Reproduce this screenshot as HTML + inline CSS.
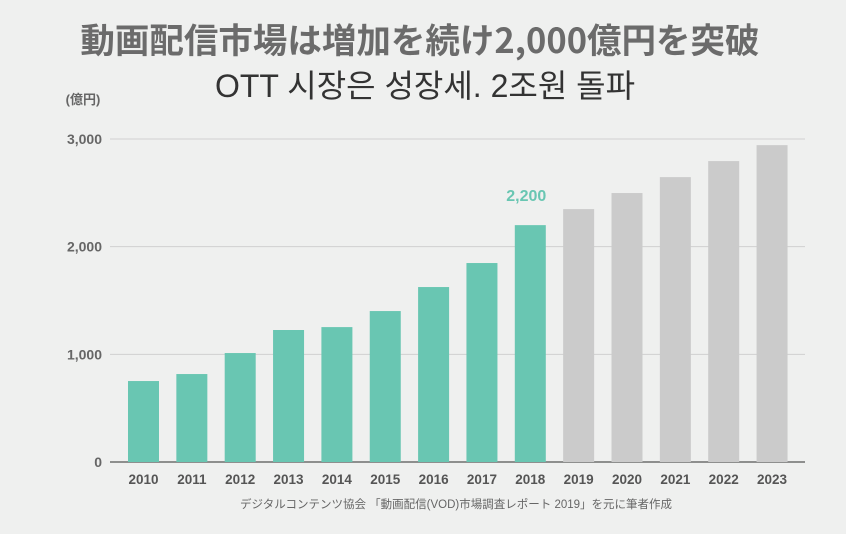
<!DOCTYPE html>
<html><head><meta charset="utf-8"><style>
body{margin:0;background:#eff0ef;}
svg{display:block;font-family:"Liberation Sans","Noto Sans CJK JP",sans-serif;}
</style></head><body>
<svg width="846" height="534">
<rect width="846" height="534" fill="#eff0ef"/>
<text x="420" y="53" text-anchor="middle" font-size="34.5" font-weight="bold" fill="#6b6b6b" font-family="'Noto Sans CJK JP',sans-serif">動画配信市場は増加を続け2,000億円を突破</text>
<text x="425" y="97" text-anchor="middle" font-size="32" fill="#333" font-family="'Liberation Sans','Noto Sans CJK KR',sans-serif">OTT 시장은 성장세. 2조원 돌파</text>
<text x="83" y="104" text-anchor="middle" font-size="13" font-weight="bold" fill="#666">(億円)</text>
<g id="grid"></g><g id="bars"></g><g id="labels"></g>
<text x="456" y="508" text-anchor="middle" font-size="11.5" fill="#666">デジタルコンテンツ協会 「動画配信(VOD)市場調査レポート 2019」を元に筆者作成</text>
</svg>
<script>
const years=["2010","2011","2012","2013","2014","2015","2016","2017","2018","2019","2020","2021","2022","2023"];
const values=[752,817,1012,1226,1253,1402,1625,1848,2200,2349,2498,2646,2795,2943];
const actual=[true,true,true,true,true,true,true,true,true,false,false,false,false,false];
const yTicks=[0,1000,2000,3000];
const yTickLabels=["0","1,000","2,000","3,000"];
const highlightLabel="2,200";
const NS="http://www.w3.org/2000/svg";
const y0=462,pxPer=323/3000;
const Y=v=>y0-v*pxPer;
const X=i=>143.5+i*48.35;
function mk(t,a,p){const e=document.createElementNS(NS,t);for(const k in a)e.setAttribute(k,a[k]);document.getElementById(p).appendChild(e);return e;}
yTicks.forEach((t,i)=>{
 const l=mk('line',{x1:110,x2:805,y1:Y(t),y2:Y(t),stroke:t===0?'#555':'#d0d0d0','stroke-width':t===0?1.2:1},'grid');
 
 
 const tx=mk('text',{x:102,y:Y(t)+5,'text-anchor':'end','font-size':14,'font-weight':'bold',fill:'#666'},'labels');
 tx.textContent=yTickLabels[i];
 
 
});
values.forEach((v,i)=>{
 const r=mk('rect',{x:X(i)-15.5,y:Y(v),width:31,height:v*pxPer,fill:actual[i]?'#69c6b2':'#cbcbcb'},'bars');
 
 
 const t=mk('text',{x:X(i),y:484,'text-anchor':'middle','font-size':13.5,'font-weight':'bold',fill:'#555'},'labels');
 t.textContent=years[i];
 
 
});
const hi=8;
const h=mk('text',{x:X(hi)-4,y:Y(values[hi])-24,'text-anchor':'middle','font-size':16,'font-weight':'bold',fill:'#69c6b2'},'labels');
h.textContent=highlightLabel;


</script>
</body></html>
